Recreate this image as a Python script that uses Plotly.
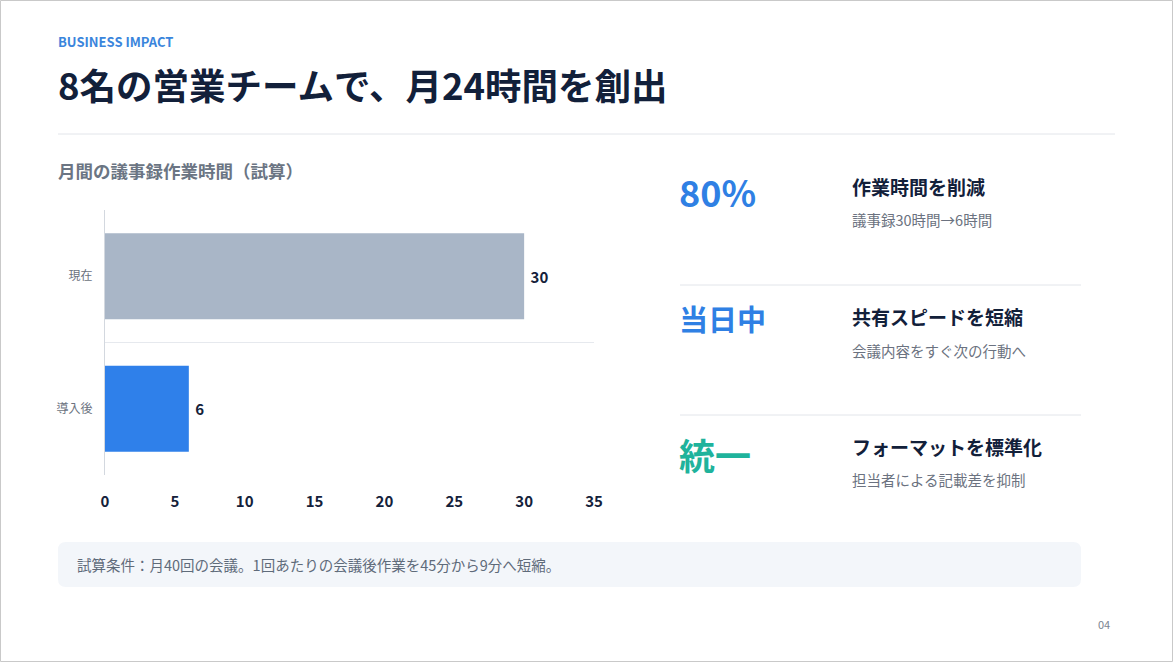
import plotly.graph_objects as go

W, H = 1173, 662
FONT = "Noto Sans CJK JP"

# ---- data ----
categories = ["現在", "導入後"]
hours = [30, 6]
bar_colors = ["#a9b6c7", "#2f80ea"]
x_ticks = [0, 5, 10, 15, 20, 25, 30, 35]

eyebrow = "BUSINESS IMPACT"
title = "8名の営業チームで、月24時間を創出"
chart_title = "月間の議事録作業時間（試算）"
kpi_values = ["80%", "当日中", "統一"]
kpi_colors = ["#2f80e4", "#2f80e4", "#1fb39c"]
kpi_heads = ["作業時間を削減", "共有スピードを短縮", "フォーマットを標準化"]
kpi_subs = ["議事録30時間→6時間", "会議内容をすぐ次の行動へ", "担当者による記載差を抑制"]
footnote = "試算条件：月40回の会議。1回あたりの会議後作業を45分から9分へ短縮。"
page_no = "04"

# ---- layout geometry (pixels) ----
L, R, T, B = 105, 594, 210, 475


def px(x):
    return (x - L) / (R - L)


def py(y):
    return (B - y) / (B - T)


fig = go.Figure(
    go.Bar(
        x=hours,
        y=categories,
        orientation="h",
        marker=dict(color=bar_colors, line=dict(width=0)),
        text=[" " + str(v) for v in hours],
        textposition="outside",
        textfont=dict(family=FONT, size=15, color="#14213a", weight=700),
        cliponaxis=False,
        hoverinfo="skip",
    )
)

fig.update_layout(
    width=W,
    height=H,
    margin=dict(l=L, r=W - R, t=T, b=H - B, pad=0),
    paper_bgcolor="white",
    plot_bgcolor="white",
    showlegend=False,
    bargap=0.35,
    font=dict(family=FONT),
    xaxis=dict(
        range=[0, 35],
        tickvals=x_ticks,
        showgrid=False,
        zeroline=False,
        showline=False,
        ticks="",
        ticklabelstandoff=16,
        tickfont=dict(family=FONT, size=15, color="#14213a", weight=700),
        fixedrange=True,
    ),
    yaxis=dict(
        range=[1.5, -0.5],
        showgrid=False,
        zeroline=False,
        showline=True,
        linecolor="#d3d8df",
        linewidth=1,
        ticks="",
        ticklabelstandoff=9,
        tickfont=dict(family=FONT, size=12, color="#6b7280"),
        fixedrange=True,
    ),
)

shapes = []
# page border
shapes.append(dict(type="rect", xref="paper", yref="paper",
                   x0=px(0.5), x1=px(W - 0.5), y0=py(0.5), y1=py(H - 0.5),
                   line=dict(color="#c9c9c9", width=1), fillcolor="rgba(0,0,0,0)", layer="below"))
# header divider
shapes.append(dict(type="line", xref="paper", yref="paper",
                   x0=px(58), x1=px(1115), y0=py(134), y1=py(134),
                   line=dict(color="#e2e5ea", width=1)))
# category boundary gridline
shapes.append(dict(type="line", xref="paper", yref="y",
                   x0=0, x1=1, y0=0.5, y1=0.5,
                   line=dict(color="#e6e9ee", width=1), layer="below"))
# right panel dividers
for yy in (285, 415):
    shapes.append(dict(type="line", xref="paper", yref="paper",
                       x0=px(680), x1=px(1081), y0=py(yy), y1=py(yy),
                       line=dict(color="#e2e5ea", width=1)))
# footnote box (rounded)
x0, x1, y0, y1, r = px(58), px(1081), py(542), py(587), 8
rx = r / (R - L)
ry = r / (B - T)
path = (f"M {x0+rx},{y0} L {x1-rx},{y0} Q {x1},{y0} {x1},{y0-ry} "
        f"L {x1},{y1+ry} Q {x1},{y1} {x1-rx},{y1} L {x0+rx},{y1} "
        f"Q {x0},{y1} {x0},{y1+ry} L {x0},{y0-ry} Q {x0},{y0} {x0+rx},{y0} Z")
shapes.append(dict(type="path", xref="paper", yref="paper", path=path,
                   fillcolor="#f3f6fa", line=dict(width=0), layer="below"))
fig.update_layout(shapes=shapes)

ann = []


def text(x, y, s, size, color, weight=400, xanchor="left"):
    ann.append(dict(xref="paper", yref="paper", x=px(x), y=py(y), text=s,
                    showarrow=False, xanchor=xanchor, yanchor="middle",
                    font=dict(family=FONT, size=size, color=color, weight=weight)))


text(56, 42, eyebrow, 13, "#3a85dc", 700)
text(56, 84, title, 36.5, "#12203a", 700)
text(56, 170, chart_title, 17.5, "#6b7583", 700)

kpi_pos = [(191, 186, 219), (318, 316, 350), (454, 446, 479)]
kpi_sizes = [36, 29, 36]
for i in range(3):
    yv, yh, ys = kpi_pos[i]
    text(677, yv, kpi_values[i], kpi_sizes[i], kpi_colors[i], 700)
    text(850, yh, kpi_heads[i], 19, "#12203a", 700)
    text(850, ys, kpi_subs[i], 14.5, "#6b7280", 400)

text(75, 564, footnote, 14.5, "#5f6b7a", 400)
text(1112, 624, page_no, 11, "#7b8491", 400, xanchor="right")

fig.update_layout(annotations=ann)

fig.write_html("out.html", config={"displayModeBar": False},
               post_script="document.body.style.margin='0';")
